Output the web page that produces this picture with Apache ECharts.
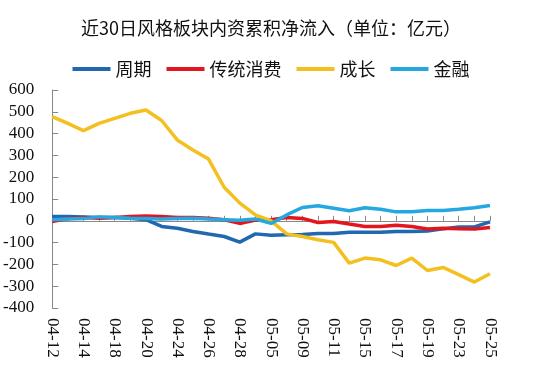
<!DOCTYPE html>
<html>
<head>
<meta charset="utf-8">
<script src="https://cdn.jsdelivr.net/npm/echarts@6/dist/echarts.min.js"></script>
<style>html,body{margin:0;padding:0;background:#fff;}#c{width:542px;height:365px;}</style>
</head>
<body>
<div id="c"></div>
<script>
var categories = ['04-12','04-13','04-14','04-17','04-18','04-19','04-20','04-21','04-24','04-25','04-26','04-27','04-28','05-04','05-05','05-08','05-09','05-10','05-11','05-12','05-15','05-16','05-17','05-18','05-19','05-22','05-23','05-24','05-25'];
var zhouqi = [20, 20, 18, 15, 15, 12, 5, -26, -34, -49, -61, -72, -98, -60, -66, -64, -63, -58, -58, -53, -53, -53, -49, -49, -47, -37, -28, -28, -5];
var xiaofei = [-3, 10, 15, 12, 15, 20, 22, 20, 15, 15, 12, 5, -12, 3, 5, 15, 11, -8, -3, -15, -26, -26, -20, -26, -38, -34, -36, -38, -31];
var chengzhang = [478, 447, 414, 447, 470, 493, 508, 460, 371, 325, 283, 154, 81, 27, 0, -60, -72, -87, -99, -194, -171, -179, -205, -171, -228, -214, -247, -281, -243];
var jinrong = [5, 8, 10, 18, 15, 12, 10, 8, 10, 12, 8, 5, 2, 8, -12, 27, 61, 69, 58, 46, 60, 53, 41, 41, 47, 47, 53, 60, 70];
var seriesNames = ['周期', '传统消费', '成长', '金融'];
var colors = ['#2068B0', '#E2161E', '#F4C020', '#24A8DF'];

var chart = echarts.init(document.getElementById('c'));
var data = [zhouqi, xiaofei, chengzhang, jinrong];
chart.setOption({
  animation: false,
  backgroundColor: '#fff',
  title: {
    text: '近30日风格板块内资累积净流入（单位：亿元）',
    left: 'center',
    top: 14,
    textStyle: {fontFamily: 'Noto Sans CJK SC', fontSize: 18, fontWeight: 'normal', color: '#111'}
  },
  legend: {
    data: seriesNames.map(function (n) { return {name: n, icon: 'rect'}; }),
    left: 'center',
    top: 55,
    itemWidth: 38,
    itemHeight: 4,
    itemGap: 15,
    textStyle: {fontFamily: 'Noto Sans CJK SC', fontSize: 18, color: '#111'}
  },
  grid: {left: 52, right: 52, top: 90, bottom: 57, containLabel: false},
  xAxis: [{
    type: 'category',
    data: categories,
    boundaryGap: false,
    axisLine: {onZero: true, lineStyle: {color: '#888', width: 1}},
    axisTick: {show: true, inside: true, length: 5, interval: 0, lineStyle: {color: '#888'}},
    axisLabel: {show: false},
    splitLine: {show: false}
  }, {
    type: 'category',
    data: categories,
    boundaryGap: false,
    position: 'bottom',
    axisLine: {show: false, onZero: false},
    axisTick: {show: false},
    axisLabel: {show: true, interval: 1, rotate: -90, margin: 10, fontFamily: 'Liberation Serif', fontSize: 17, color: '#111'},
    splitLine: {show: false}
  }],
  yAxis: {
    type: 'value',
    min: -400, max: 600, interval: 100,
    axisLine: {show: true, lineStyle: {color: '#888'}},
    axisTick: {show: true, inside: true, length: 6, lineStyle: {color: '#888'}},
    axisLabel: {margin: 18, fontFamily: 'Liberation Serif', fontSize: 17, color: '#111'},
    splitLine: {show: false}
  },
  series: seriesNames.map(function (n, i) {
    return {
      name: n, type: 'line', data: data[i], xAxisIndex: 0,
      symbol: 'none', smooth: false,
      lineStyle: {width: 3.5, color: colors[i]},
      itemStyle: {color: colors[i]}
    };
  })
});
</script>
</body>
</html>
